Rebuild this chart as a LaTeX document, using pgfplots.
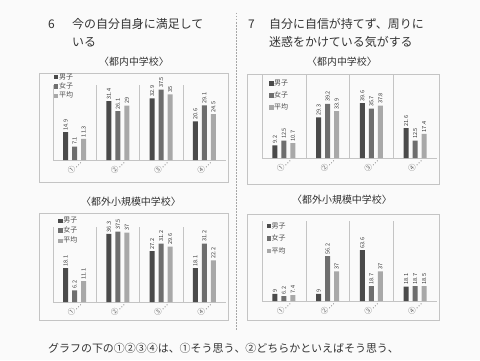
\documentclass[border=0pt]{standalone}
\usepackage{fontspec}
\setmainfont{Noto Sans CJK JP}
\usepackage{pgfplots}
\pgfplotsset{compat=1.18}
\definecolor{cm}{HTML}{4A4A4A}
\definecolor{cf}{HTML}{6E6E6E}
\definecolor{ca}{HTML}{A8A8A8}
\definecolor{fr}{HTML}{C4C4C4}
\definecolor{bg}{HTML}{FAFAFA}
\definecolor{tx}{HTML}{333333}
\pgfplotsset{
 mini/.style={
  scale only axis, ybar=4bp, bar width=5bp,
  xmin=-0.5, xmax=3.5, ymin=0,
  xtick={0,1,2,3}, xticklabels={①…,②…,③…,④…},
  xticklabel style={rotate=45, anchor=east, font=\fontsize{7.5}{7.5}\selectfont, text=black!60, inner sep=0pt, xshift=3bp, yshift=-4.5bp},
  minor xtick={-0.5,0.5,1.5,2.5},
  xminorgrids, minor grid style={fr, line width=0.5bp},
  major tick length=0pt, minor tick length=0pt,
  axis x line*=bottom, axis y line=none,
  x axis line style={-, fr, line width=0.6bp},
  ytick=\empty,
  nodes near coords,
  nodes near coords style={rotate=90, anchor=west, font=\fontsize{5.6}{5.6}\selectfont, inner sep=1.6bp, text=black!80},
  /pgf/number format/assume math mode=true,
  legend cell align=left,
  legend image code/.code={\fill[##1, draw=none] (0bp,-2.2bp) rectangle (4.4bp,2.2bp);},
  legend style={draw=none, fill=none, font=\fontsize{7}{7}\selectfont, text=black!70, inner sep=0pt, nodes={inner sep=0.6bp}},
  clip=false,
 },
 sm/.style={fill=cm, draw=none},
 sf/.style={fill=cf, draw=none},
 sa/.style={fill=ca, draw=none},
}
\begin{document}
\begin{tikzpicture}[x=1bp,y=1bp]
\fill[bg] (0,0) rectangle (480,360);
% frames
\draw[fr, line width=0.6bp] (39,287) rectangle (228,178);
\draw[fr, line width=0.6bp] (247,286) rectangle (439,176);
\draw[fr, line width=0.6bp] (39,147) rectangle (228,40);
\draw[fr, line width=0.6bp] (247,146) rectangle (439,40);
% separator
\draw[gray!70, line width=0.7bp, dash pattern=on 1.5bp off 1.5bp] (236,347) -- (236,30);
% headings
\begin{scope}[every node/.style={text=tx, inner sep=0pt}]
\node[anchor=west, font=\fontsize{12}{12}\selectfont] at (48,336) {6};
\node[anchor=west, font=\fontsize{12}{12}\selectfont] at (72,336) {今の自分自身に満足して};
\node[anchor=west, font=\fontsize{12}{12}\selectfont] at (72,318) {いる};
\node[font=\fontsize{10}{10}\selectfont] at (134,298) {〈都内中学校〉};
\node[anchor=west, font=\fontsize{12}{12}\selectfont] at (248,336) {7};
\node[anchor=west, font=\fontsize{12}{12}\selectfont] at (269,336) {自分に自信が持てず、周りに};
\node[anchor=west, font=\fontsize{12}{12}\selectfont] at (269,318) {迷惑をかけている気がする};
\node[font=\fontsize{10}{10}\selectfont] at (342,298) {〈都内中学校〉};
\node[font=\fontsize{10}{10}\selectfont] at (131,158) {〈都外小規模中学校〉};
\node[font=\fontsize{10}{10}\selectfont] at (342,160) {〈都外小規模中学校〉};
\node[anchor=west, font=\fontsize{11}{11}\selectfont] at (48,12) {グラフの下の①②③④は、①そう思う、②どちらかといえばそう思う、};
\end{scope}
% chart 1
\begin{axis}[mini, at={(53bp,200bp)}, anchor=south west, width=173bp, height=75bp, ymax=40,
  legend style={at={(0.005,1.16)}, anchor=north west, row sep=0.8bp}]
\addplot[sm] coordinates {(0,14.9)(1,31.4)(2,32.9)(3,20.6)};
\addplot[sf] coordinates {(0,7.1)(1,26.1)(2,37.5)(3,29.1)};
\addplot[sa] coordinates {(0,11.3)(1,29)(2,35)(3,24.5)};
\legend{男子,女子,平均}
\end{axis}
% chart 2
\begin{axis}[mini, at={(262bp,202bp)}, anchor=south west, width=175bp, height=83bp, ymax=60,
  legend style={at={(0.04,0.95)}, anchor=north west, row sep=3.5bp}]
\addplot[sm] coordinates {(0,9.2)(1,29.3)(2,39.6)(3,21.6)};
\addplot[sf] coordinates {(0,12.5)(1,39.2)(2,35.7)(3,12.5)};
\addplot[sa] coordinates {(0,10.7)(1,33.9)(2,37.8)(3,17.4)};
\legend{男子,女子,平均}
\end{axis}
% chart 3
\begin{axis}[mini, at={(53bp,58bp)}, anchor=south west, width=173bp, height=75bp, ymax=40,
  legend style={at={(0.03,1.14)}, anchor=north west, row sep=1.5bp}]
\addplot[sm] coordinates {(0,18.1)(1,36.3)(2,27.2)(3,18.1)};
\addplot[sf] coordinates {(0,6.2)(1,37.5)(2,31.2)(3,31.2)};
\addplot[sa] coordinates {(0,11.1)(1,37)(2,29.6)(3,22.2)};
\legend{男子,女子,平均}
\end{axis}
% chart 4
\begin{axis}[mini, at={(262bp,59bp)}, anchor=south west, width=175bp, height=80bp, ymax=100,
  legend style={at={(0.025,0.99)}, anchor=north west, row sep=4bp}]
\addplot[sm] coordinates {(0,9)(1,9)(2,63.6)(3,18.1)};
\addplot[sf] coordinates {(0,6.2)(1,56.2)(2,18.7)(3,18.7)};
\addplot[sa] coordinates {(0,7.4)(1,37)(2,37)(3,18.5)};
\legend{男子,女子,平均}
\end{axis}
\end{tikzpicture}
\end{document}
